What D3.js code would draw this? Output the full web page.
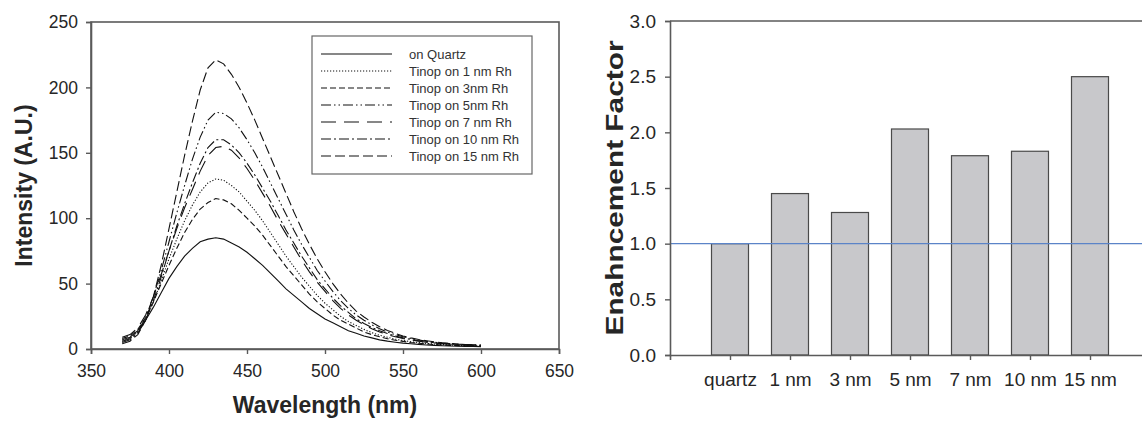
<!DOCTYPE html>
<html><head><meta charset="utf-8">
<script src="https://cdn.jsdelivr.net/npm/d3@7"></script>
<style>body{margin:0;background:#fff;} text{font-family:"Liberation Sans",Arial,sans-serif;}</style>
</head><body><svg id="c" width="1142" height="421"></svg>
<script>
const wavelengths = [370,375,380,385,390,395,400,405,410,415,420,425,430,435,440,445,450,455,460,465,470,475,480,485,490,495,500,505,510,515,520,525,530,535,540,545,550,555,560,565,570,575,580,585,590,595,600];
const quartz = [7,9,14,22,32,43,54,63,71,77,82,84,85,84,81,78,74,69,64,58,52,46,41,36,31,27,23,20,17,14,12,10,8.5,7,6,5.2,4.5,4,3.5,3.1,2.8,2.5,2.3,2.1,2,1.9,1.8];
const rh1 = [6,8,13,22,36,52,69,84,98,110,120,127,130,129,125,120,113,106,98,89,80,71,63,55,48,41,35,30,25,21,18,15,12.5,10.5,9,7.5,6.5,5.6,4.9,4.3,3.8,3.4,3.1,2.8,2.6,2.4,2.3];
const rh3 = [8,10,15,24,36,50,64,77,89,99,107,112,115,114,111,106,100,94,87,79,71,63,56,49,42,36,31,26,22,19,16,13,11,9.3,7.9,6.7,5.8,5,4.4,3.9,3.4,3.1,2.8,2.6,2.4,2.2,2.1];
const rh5 = [6,8,13,24,40,60,82,104,125,145,162,175,181,180,176,169,160,150,139,127,115,103,91,80,70,60,52,44,37,31,26,22,18.5,15.5,13,11,9.3,8,6.9,6,5.2,4.6,4.1,3.7,3.4,3.1,2.9];
const rh7 = [9,11,16,26,40,57,75,92,108,122,136,148,154,155,152,146,138,129,119,109,98,88,78,68,59,51,44,37,31,26,22,18.5,15.5,13,11,9.4,8,6.9,6,5.2,4.6,4.1,3.7,3.3,3,2.8,2.6];
const rh10 = [5,7,12,22,37,55,75,94,111,127,142,154,160,160,156,150,142,133,123,113,102,91,81,71,62,53,46,39,33,28,23,19.5,16.5,14,11.8,10,8.5,7.3,6.3,5.5,4.8,4.3,3.8,3.5,3.2,2.9,2.7];
const rh15 = [4,6,11,22,40,64,92,120,148,174,198,215,221,218,210,200,188,175,161,147,133,119,105,92,80,69,59,50,42,35,29,24.5,20.5,17,14.2,12,10,8.5,7.3,6.3,5.5,4.8,4.3,3.8,3.5,3.2,3];
const seriesNames = ["on Quartz","Tinop on 1 nm Rh","Tinop on 3nm Rh","Tinop on 5nm Rh","Tinop on 7 nm Rh","Tinop on 10 nm Rh","Tinop on 15 nm Rh"];
const seriesValues = [quartz, rh1, rh3, rh5, rh7, rh10, rh15];
const xTicks = [350,400,450,500,550,600,650];
const yTicks = [0,50,100,150,200,250];

const barCategories = ["quartz","1 nm","3 nm","5 nm","7 nm","10 nm","15 nm"];
const barValues = [1.0,1.45,1.28,2.03,1.79,1.83,2.50];
const barYTicks = [0,0.5,1.0,1.5,2.0,2.5,3.0];
const refLine = 1.0;

const dashes = ["none","1.2,1.8","6,3","10,3,1.5,3,1.5,3","15,8","10,3,2,3","10,4"];
const axisCol = "#5a5a5a", textCol = "#262626";
const svg = d3.select("#c");

function styleAxis(a, fs){
  a.select(".domain").attr("stroke",axisCol).attr("stroke-width",1.6);
  a.selectAll(".tick line").attr("stroke",axisCol).attr("stroke-width",1.4);
  a.selectAll(".tick text").attr("fill",textCol).style("font-size",fs+"px").style("font-family","Liberation Sans, Arial, sans-serif");
}

// ---------- Left chart ----------
const L = {l:91, r:559, t:22, b:349};
const x = d3.scaleLinear().domain([350,650]).range([L.l, L.r]);
const y = d3.scaleLinear().domain([0,250]).range([L.b, L.t]);
const gl = svg.append("g");

const line = d3.line().x((d,i)=>x(wavelengths[i])).y(d=>y(d));
seriesValues.forEach((vals,k)=>{
  gl.append("path").datum(vals).attr("d", line).attr("fill","none")
    .attr("stroke","#111").attr("stroke-width",1.1)
    .attr("stroke-dasharray", dashes[k]);
});

gl.append("rect").attr("x",L.l).attr("y",L.t).attr("width",L.r-L.l).attr("height",L.b-L.t)
  .attr("fill","none").attr("stroke",axisCol).attr("stroke-width",1.6);

const xa = gl.append("g").attr("transform",`translate(0,${L.b})`)
  .call(d3.axisBottom(x).tickValues(xTicks).tickSize(5).tickPadding(11).tickFormat(d3.format("d")));
const ya = gl.append("g").attr("transform",`translate(${L.l},0)`)
  .call(d3.axisLeft(y).tickValues(yTicks).tickSize(5).tickPadding(8).tickFormat(d3.format("d")));
styleAxis(xa,17.5); styleAxis(ya,17.5);

gl.append("text").attr("x",(L.l+L.r)/2).attr("y",413).attr("text-anchor","middle")
  .attr("font-weight","bold").attr("font-size","23px").attr("fill",textCol).text("Wavelength (nm)");
gl.append("text").attr("transform",`translate(32,${(L.t+L.b)/2}) rotate(-90)`).attr("text-anchor","middle")
  .attr("font-weight","bold").attr("font-size","23px").attr("fill",textCol).text("Intensity (A.U.)");

// legend
const lg = gl.append("g");
lg.append("rect").attr("x",312).attr("y",36).attr("width",220).attr("height",138)
  .attr("fill","#fff").attr("stroke","#666").attr("stroke-width",1.2);
seriesNames.forEach((n,k)=>{
  const yy = 54 + k*17;
  lg.append("line").attr("x1",321).attr("x2",392).attr("y1",yy).attr("y2",yy)
    .attr("stroke","#111").attr("stroke-width",1.1).attr("stroke-dasharray",dashes[k]);
  lg.append("text").attr("x",409).attr("y",yy+4.5).attr("font-size","13px").attr("fill","#333").text(n);
});

// ---------- Right chart ----------
const R = {l:670, r:1150, t:21, b:355};
const xb = d3.scalePoint().domain(barCategories).range([R.l, R.r]).padding(1);
const yb = d3.scaleLinear().domain([0,3]).range([R.b, R.t]);
const gr = svg.append("g");
const bw = 37;
gr.selectAll("rect.bar").data(barValues).enter().append("rect").attr("class","bar")
  .attr("x",(d,i)=>xb(barCategories[i])-bw/2).attr("width",bw)
  .attr("y",d=>yb(d)).attr("height",d=>yb(0)-yb(d))
  .attr("fill","#c8c8cb").attr("stroke","#4a4a4a").attr("stroke-width",1.2);

gr.append("line").attr("x1",R.l).attr("x2",1142).attr("y1",yb(refLine)).attr("y2",yb(refLine))
  .attr("stroke","#5b84c8").attr("stroke-width",1.4);

gr.append("line").attr("x1",R.l).attr("x2",R.r).attr("y1",R.t).attr("y2",R.t)
  .attr("stroke",axisCol).attr("stroke-width",1.6);
const xba = gr.append("g").attr("transform",`translate(0,${R.b})`)
  .call(d3.axisBottom(xb).tickSize(5).tickPadding(13));
const yba = gr.append("g").attr("transform",`translate(${R.l},0)`)
  .call(d3.axisLeft(yb).tickValues(barYTicks).tickSize(5).tickPadding(9).tickFormat(d3.format(".1f")));
styleAxis(xba,19); styleAxis(yba,19);
gr.append("text").attr("transform",`translate(623,${(R.t+R.b)/2}) rotate(-90)`).attr("text-anchor","middle")
  .attr("font-weight","bold").attr("font-size","23px").attr("fill",textCol)
  .attr("textLength",295).attr("lengthAdjust","spacingAndGlyphs").text("Enahncement Factor");
</script></body></html>
